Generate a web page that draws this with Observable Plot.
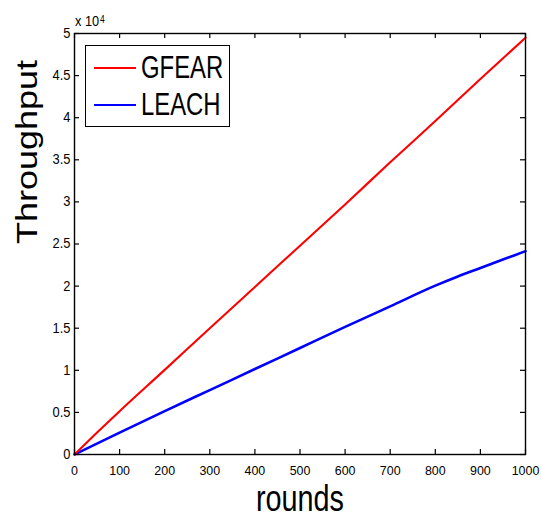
<!DOCTYPE html>
<html>
<head>
<meta charset="utf-8">
<script src="https://cdn.jsdelivr.net/npm/d3@7"></script>
<script src="https://cdn.jsdelivr.net/npm/@observablehq/plot@0.6"></script>
<style>
  html, body { margin: 0; padding: 0; background: #fff; }
  #wrap { position: relative; width: 541px; height: 517px; font-family: "Liberation Sans", Arial, sans-serif; }
  #legend { position: absolute; left: 85px; top: 45px; width: 145px; height: 82px; border: 1px solid #000; background: #fff; box-sizing: border-box; }
  .row { position: absolute; left: 0; height: 37px; display: flex; align-items: center; white-space: nowrap; }
  .sw { width: 42px; height: 0; margin-left: 8px; margin-right: 5px; }
  .lab { display: inline-block; font-size: 31px; color: #000; line-height: 37px; transform: scaleX(0.77); transform-origin: 0 50%; }
  #mult { position: absolute; left: 75px; top: 13px; font-size: 15px; line-height: 15px; color: #000; white-space: nowrap; transform: scaleX(0.85); transform-origin: 0 0; }
  #mult sup { font-size: 10px; position: relative; top: -3px; vertical-align: baseline; margin-left: 1px; }
</style>
</head>
<body>
<div id="wrap"></div>
<script>
// ---- data ----
const seriesNames = ["GFEAR", "LEACH"];
const seriesColors = ["#ff0000", "#0000ff"];
const gfearRounds = [0, 50, 100, 200, 300, 400, 500, 600, 700, 800, 900, 1000];
const gfearValues = [0, 2600, 5150, 10050, 15000, 19900, 24800, 29700, 34700, 39600, 44600, 49500];
const leachRounds = [0, 100, 200, 300, 400, 500, 600, 700, 800, 850, 900, 950, 1000];
const leachValues = [0, 2600, 5150, 7650, 10150, 12650, 15150, 17600, 20050, 21150, 22150, 23150, 24150];
const xTicks = [0, 100, 200, 300, 400, 500, 600, 700, 800, 900, 1000];
const yTicks = [0, 5000, 10000, 15000, 20000, 25000, 30000, 35000, 40000, 45000, 50000];
const xLabel = "rounds";
const yLabel = "Throughput";

const gfear = gfearRounds.map((r, i) => ({round: r, value: gfearValues[i], series: seriesNames[0]}));
const leach = leachRounds.map((r, i) => ({round: r, value: leachValues[i], series: seriesNames[1]}));

const W = 541, H = 517;
const mL = 74, mR = 16, mT = 33, mB = 63;
const innerW = W - mL - mR, innerH = H - mT - mB;
const tk = 5;

const chart = Plot.plot({
  width: W, height: H,
  marginLeft: mL, marginRight: mR, marginTop: mT, marginBottom: mB,
  style: {fontFamily: "'Liberation Sans', Arial, sans-serif", fontSize: "13.5px", color: "#000", background: "#fff", overflow: "visible"},
  x: {domain: [0, 1000]},
  y: {domain: [0, 50000]},
  marks: [
    Plot.line(leach, {x: "round", y: "value", stroke: seriesColors[1], strokeWidth: 2.6, curve: "monotone-x"}),
    Plot.line(gfear, {x: "round", y: "value", stroke: seriesColors[0], strokeWidth: 2.1, curve: "monotone-x"}),
    // inward ticks on all four sides
    Plot.tickX(xTicks, {x: d => d, insetTop: innerH - tk, stroke: "#000", strokeWidth: 1.2}),
    Plot.tickX(xTicks, {x: d => d, insetBottom: innerH - tk, stroke: "#000", strokeWidth: 1.2}),
    Plot.tickY(yTicks, {y: d => d, insetRight: innerW - tk, stroke: "#000", strokeWidth: 1.2}),
    Plot.tickY(yTicks, {y: d => d, insetLeft: innerW - tk, stroke: "#000", strokeWidth: 1.2}),
    Plot.axisX({ticks: xTicks, tickSize: 0, tickPadding: 11, label: null, fontSize: 13.5, tickFormat: d => String(d)}),
    Plot.axisY({ticks: yTicks, tickSize: 0, tickPadding: 4, label: null, fontSize: 14, tickFormat: d => String(d / 10000)}),
    Plot.frame({stroke: "#000", strokeWidth: 1.4}),
    Plot.text([xLabel], {frameAnchor: "bottom", text: d => d, dy: 56, lineAnchor: "bottom", fontSize: 36, fill: "#000", className: "xlab"}),
    Plot.text([yLabel], {frameAnchor: "left", text: d => d, dx: -47, rotate: -90, fontSize: 36, fill: "#000", className: "ylab"})
  ]
});

const wrap = document.getElementById("wrap");
wrap.appendChild(chart);

// horizontally condensed appearance of the original (compressed figure)
d3.select(chart).selectAll(".xlab text").attr("textLength", 88).attr("lengthAdjust", "spacingAndGlyphs");
d3.select(chart).selectAll(".ylab text").each(function() {
  const t = d3.select(this);
  t.attr("transform", (t.attr("transform") || "") + " scale(1,0.8)");
});
d3.select(chart).selectAll("[aria-label='x-axis tick label'] text, [aria-label='y-axis tick label'] text").each(function() {
  const t = d3.select(this);
  const len = this.getComputedTextLength();
  t.attr("textLength", len * 0.92).attr("lengthAdjust", "spacingAndGlyphs");
});

const mult = document.createElement("div");
mult.id = "mult";
mult.innerHTML = "x 10<sup>4</sup>";
wrap.appendChild(mult);

const legend = document.createElement("div");
legend.id = "legend";
seriesNames.forEach((name, i) => {
  const row = document.createElement("div");
  row.className = "row";
  row.style.top = (3 + i * 37) + "px";
  const sw = document.createElement("div");
  sw.className = "sw";
  sw.style.borderTop = (i === 0 ? 2.2 : 2.6) + "px solid " + seriesColors[i];
  const lab = document.createElement("span");
  lab.className = "lab";
  lab.textContent = name;
  row.appendChild(sw);
  row.appendChild(lab);
  legend.appendChild(row);
});
wrap.appendChild(legend);
</script>
</body>
</html>
